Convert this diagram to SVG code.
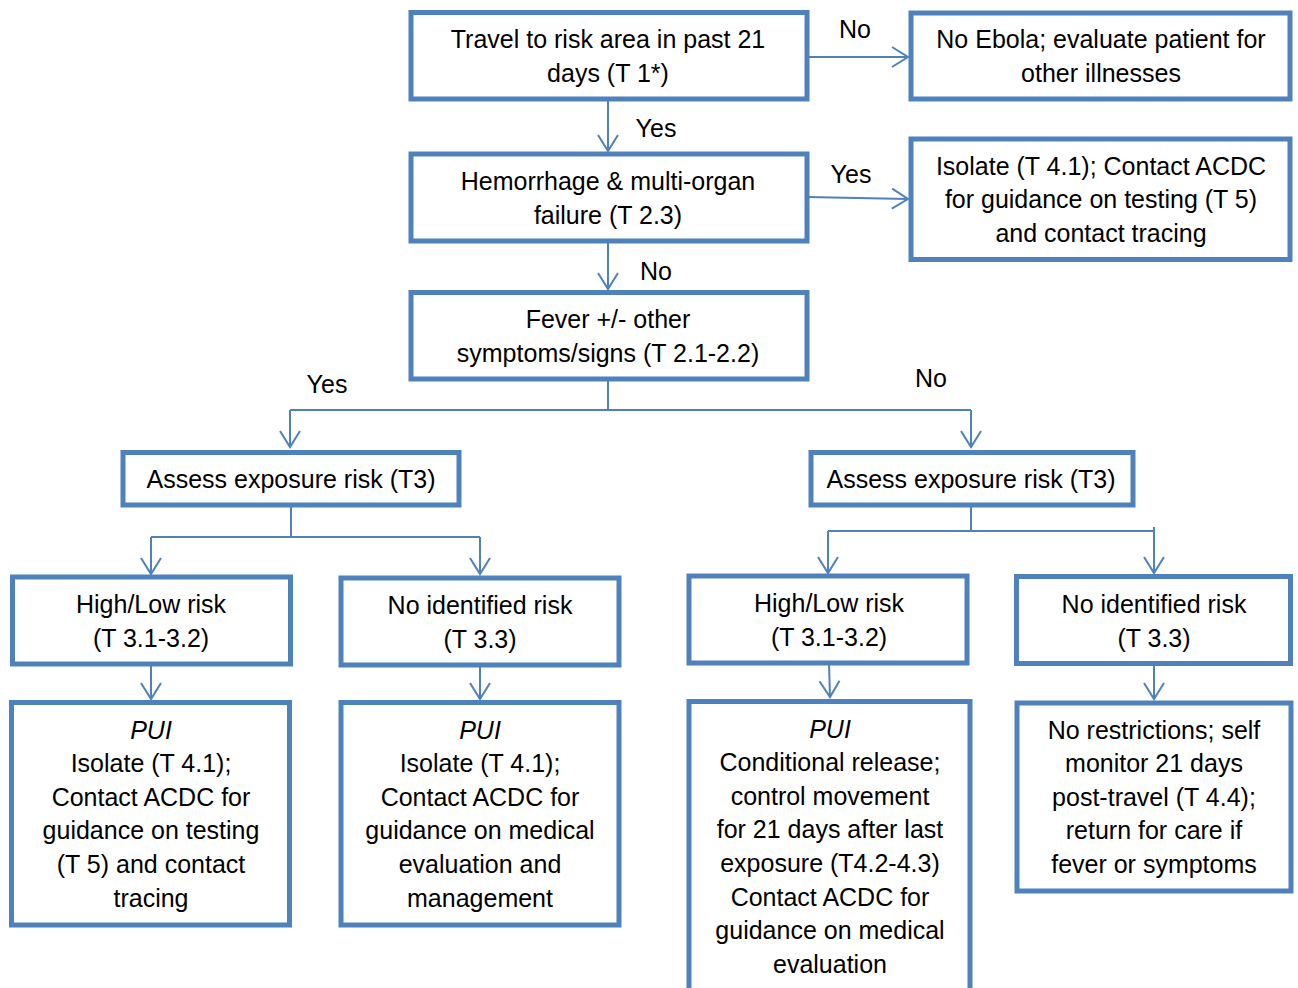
<svg xmlns="http://www.w3.org/2000/svg" width="1298" height="988" viewBox="0 0 1298 988">
<style>
.box{fill:#fff;stroke:#4F81BD;stroke-width:5}
.t{font-family:"Liberation Sans",Arial,sans-serif;font-size:25px;fill:#000;text-anchor:middle}
.c{fill:none;stroke:#4F81BD;stroke-width:2}
.i{font-style:italic}
</style>
<defs>
<marker id="ah" markerUnits="userSpaceOnUse" markerWidth="24" markerHeight="24" viewBox="-18 -12 20 24" refX="0" refY="0" orient="auto">
<path d="M-16,-10 L0,0 L-16,10" fill="none" stroke="#4F81BD" stroke-width="2"/>
</marker>
</defs>
<rect width="1298" height="988" fill="#fff"/>
<g id="connectors">
<path class="c" d="M807,57 L908,57" marker-end="url(#ah)"/>
<path class="c" d="M807,197 L908,199" marker-end="url(#ah)"/>
<path class="c" d="M608,99 L608,151" marker-end="url(#ah)"/>
<path class="c" d="M608,241 L608,289" marker-end="url(#ah)"/>
<path class="c" d="M608,379 L608,410 M290,410 L971,410"/>
<path class="c" d="M290,410 L290,447" marker-end="url(#ah)"/>
<path class="c" d="M971,410 L971,447" marker-end="url(#ah)"/>
<path class="c" d="M291,506 L291,537 M151,537 L480,537"/>
<path class="c" d="M151,537 L151,574" marker-end="url(#ah)"/>
<path class="c" d="M480,537 L480,574" marker-end="url(#ah)"/>
<path class="c" d="M971,506 L971,531 M828,531 L1154,531"/>
<path class="c" d="M828,531 L828,573" marker-end="url(#ah)"/>
<path class="c" d="M1154,527 L1154,573" marker-end="url(#ah)"/>
<path class="c" d="M151,664 L151,699" marker-end="url(#ah)"/>
<path class="c" d="M480,665 L480,699" marker-end="url(#ah)"/>
<path class="c" d="M829,663 L830,697" marker-end="url(#ah)"/>
<path class="c" d="M1154,664 L1154,699" marker-end="url(#ah)"/>
<text class="t" x="855" y="38">No</text>
<text class="t" x="851" y="183">Yes</text>
<text class="t" x="656" y="137">Yes</text>
<text class="t" x="656" y="280">No</text>
<text class="t" x="327" y="393">Yes</text>
<text class="t" x="931" y="387">No</text>
</g>
<g id="travel">
<rect class="box" x="411" y="12.5" width="396" height="86.5"/>
<text class="t" x="608" y="48">Travel to risk area in past 21</text>
<text class="t" x="608" y="82">days (T 1*)</text>
</g>
<g id="noebola">
<rect class="box" x="911" y="13" width="379" height="86"/>
<text class="t" x="1101" y="48">No Ebola; evaluate patient for</text>
<text class="t" x="1101" y="82">other illnesses</text>
</g>
<g id="hemorrhage">
<rect class="box" x="411" y="154" width="396" height="87"/>
<text class="t" x="608" y="190">Hemorrhage &amp; multi-organ</text>
<text class="t" x="608" y="224">failure (T 2.3)</text>
</g>
<g id="isolate-top">
<rect class="box" x="911" y="139" width="379" height="120.5"/>
<text class="t" x="1101" y="175">Isolate (T 4.1); Contact ACDC</text>
<text class="t" x="1101" y="208">for guidance on testing (T 5)</text>
<text class="t" x="1101" y="242">and contact tracing</text>
</g>
<g id="fever">
<rect class="box" x="411" y="292.5" width="396" height="86.5"/>
<text class="t" x="608" y="328">Fever +/- other</text>
<text class="t" x="608" y="362">symptoms/signs (T 2.1-2.2)</text>
</g>
<g id="assess-left">
<rect class="box" x="123" y="452.5" width="336" height="52.5"/>
<text class="t" x="291" y="488">Assess exposure risk (T3)</text>
</g>
<g id="assess-right">
<rect class="box" x="811" y="452.5" width="322" height="52.5"/>
<text class="t" x="971" y="488">Assess exposure risk (T3)</text>
</g>
<g id="highlow-left">
<rect class="box" x="12.5" y="577" width="278" height="87"/>
<text class="t" x="151" y="613">High/Low risk</text>
<text class="t" x="151" y="647">(T 3.1-3.2)</text>
</g>
<g id="noid-left">
<rect class="box" x="341" y="578" width="278" height="87"/>
<text class="t" x="480" y="614">No identified risk</text>
<text class="t" x="480" y="648">(T 3.3)</text>
</g>
<g id="highlow-right">
<rect class="box" x="689" y="576" width="278" height="87"/>
<text class="t" x="829" y="612">High/Low risk</text>
<text class="t" x="829" y="646">(T 3.1-3.2)</text>
</g>
<g id="noid-right">
<rect class="box" x="1016.5" y="576.5" width="274" height="87"/>
<text class="t" x="1154" y="613">No identified risk</text>
<text class="t" x="1154" y="647">(T 3.3)</text>
</g>
<g id="pui-1">
<rect class="box" x="11.5" y="702.5" width="278" height="222.5"/>
<text class="t i" x="151" y="739">PUI</text>
<text class="t" x="151" y="772">Isolate (T 4.1);</text>
<text class="t" x="151" y="806">Contact ACDC for</text>
<text class="t" x="151" y="839">guidance on testing</text>
<text class="t" x="151" y="873">(T 5) and contact</text>
<text class="t" x="151" y="907">tracing</text>
</g>
<g id="pui-2">
<rect class="box" x="341" y="702.5" width="278" height="222.5"/>
<text class="t i" x="480" y="739">PUI</text>
<text class="t" x="480" y="772">Isolate (T 4.1);</text>
<text class="t" x="480" y="806">Contact ACDC for</text>
<text class="t" x="480" y="839">guidance on medical</text>
<text class="t" x="480" y="873">evaluation and</text>
<text class="t" x="480" y="907">management</text>
</g>
<g id="pui-3">
<rect class="box" x="689" y="701.5" width="281" height="300"/>
<text class="t i" x="830" y="738">PUI</text>
<text class="t" x="830" y="771">Conditional release;</text>
<text class="t" x="830" y="805">control movement</text>
<text class="t" x="830" y="838">for 21 days after last</text>
<text class="t" x="830" y="872">exposure (T4.2-4.3)</text>
<text class="t" x="830" y="906">Contact ACDC for</text>
<text class="t" x="830" y="939">guidance on medical</text>
<text class="t" x="830" y="973">evaluation</text>
</g>
<g id="no-restrictions">
<rect class="box" x="1017" y="703" width="274" height="188"/>
<text class="t" x="1154" y="739">No restrictions; self</text>
<text class="t" x="1154" y="772">monitor 21 days</text>
<text class="t" x="1154" y="806">post-travel (T 4.4);</text>
<text class="t" x="1154" y="839">return for care if</text>
<text class="t" x="1154" y="873">fever or symptoms</text>
</g>
</svg>
